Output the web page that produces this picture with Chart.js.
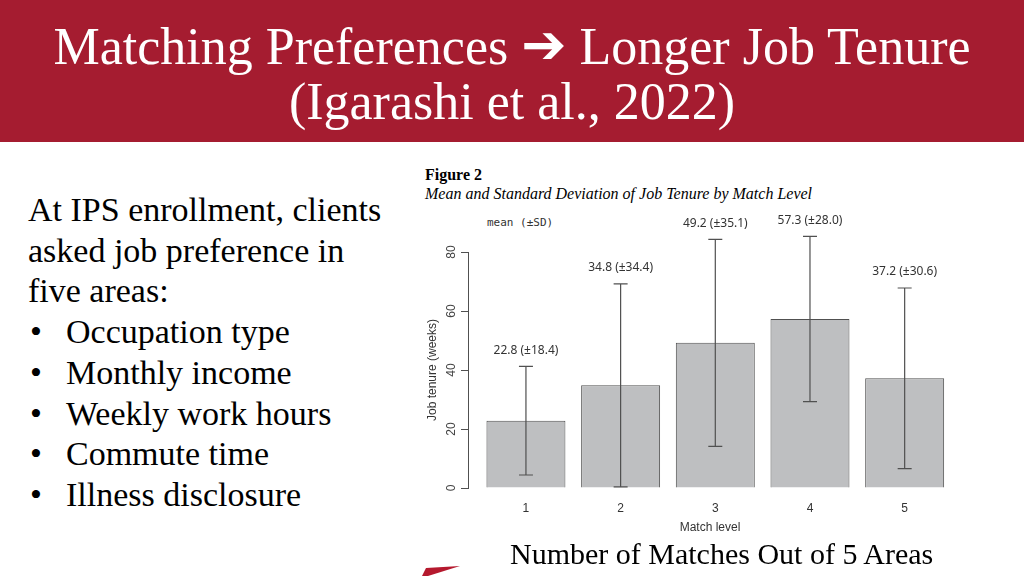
<!DOCTYPE html>
<html>
<head>
<meta charset="utf-8">
<script src="https://cdn.jsdelivr.net/npm/chart.js@4"></script>
<style>
  html, body { margin: 0; padding: 0; background: #fff; }
  body { width: 1024px; height: 576px; position: relative; overflow: hidden; font-family: "Liberation Serif", "Times New Roman", serif; }
  #banner { position: absolute; left: 0; top: 0; width: 1024px; height: 142px; background: #a51c30; color: #fff; text-align: center; }
  #banner .l { position: absolute; left: 0; width: 1024px; font-size: 52px; line-height: 56px; white-space: nowrap; }
  #banner .arrow { font-family: "DejaVu Sans", sans-serif; font-size: 54px; line-height: 40px; vertical-align: 1px; }
  #left { position: absolute; left: 28px; top: 190px; font-size: 34px; line-height: 40.7px; color: #000; }
  #left ul { margin: 0; padding: 0; list-style: none; }
  #left li { position: relative; padding-left: 38px; }
  #left li::before { content: "\2022"; position: absolute; left: 2px; }
  #figLabel { position: absolute; left: 425px; top: 166px; font-size: 16px; font-weight: bold; color: #000; }
  #figTitle { position: absolute; left: 425px; top: 185px; font-size: 16px; font-style: italic; color: #000; }
  #legendTxt { position: absolute; left: 487px; top: 216px; font-family: "DejaVu Sans Mono", monospace; font-size: 11px; color: #333; }
  #chartBox { position: absolute; left: 410px; top: 205px; width: 560px; height: 335px; }
  #caption { position: absolute; left: 510px; top: 537px; font-size: 30px; color: #000; white-space: nowrap; }
  #swoosh { position: absolute; left: 418px; top: 566px; }
</style>
</head>
<body>
<div id="banner">
  <div class="l" style="top:19px">Matching Preferences <span class="arrow">&#x2794;</span> Longer Job Tenure</div>
  <div class="l" style="top:74px">(Igarashi et al., 2022)</div>
</div>

<div id="left">
  At IPS enrollment, clients<br>
  asked job preference in<br>
  five areas:
  <ul>
    <li>Occupation type</li>
    <li>Monthly income</li>
    <li>Weekly work hours</li>
    <li>Commute time</li>
    <li>Illness disclosure</li>
  </ul>
</div>

<div id="figLabel">Figure 2</div>
<div id="figTitle">Mean and Standard Deviation of Job Tenure by Match Level</div>
<div id="legendTxt">mean (±SD)</div>

<div id="chartBox"><canvas id="grafico" width="560" height="335"></canvas></div>

<div id="caption">Number of Matches Out of 5 Areas</div>
<svg id="swoosh" width="44" height="10"><polygon points="4,10 8,2 42,0 10,10" fill="#b5192e"/></svg>

<script>
"use strict";

// datos
const niveles = [1, 2, 3, 4, 5];
const medias = [22.8, 34.8, 49.2, 57.3, 37.2];
const desvios = [18.4, 34.4, 35.1, 28.0, 30.6];
const ticksY = [0, 20, 40, 60, 80];

const GRIS = "#505050";

// barras de error y etiquetas "media (±SD)"
const errorBars = {
    id: "errorBars",
    afterDatasetsDraw(chart) {
        const ctx = chart.ctx;
        const y = chart.scales.y;
        const meta = chart.getDatasetMeta(0);
        ctx.save();
        ctx.strokeStyle = GRIS;
        ctx.lineWidth = 1.2;
        meta.data.forEach((bar, i) => {
            const yTop = y.getPixelForValue(medias[i] + desvios[i]);
            const yBot = y.getPixelForValue(Math.max(0, medias[i] - desvios[i]));
            const x = bar.x;
            ctx.beginPath();
            ctx.moveTo(x, yTop); ctx.lineTo(x, yBot);
            ctx.moveTo(x - 7, yTop); ctx.lineTo(x + 7, yTop);
            ctx.moveTo(x - 7, yBot); ctx.lineTo(x + 7, yBot);
            ctx.stroke();
            ctx.fillStyle = "#333";
            ctx.font = "12px 'Noto Sans', sans-serif";
            ctx.textAlign = "center";
            ctx.textBaseline = "middle";
            ctx.fillText(medias[i].toFixed(1) + " (±" + desvios[i].toFixed(1) + ")", x, yTop - 16);
        });
        // etiquetas del eje y, giradas como en R
        ctx.fillStyle = "#444";
        ctx.font = "12px 'Liberation Sans', sans-serif";
        y.ticks.forEach(t => {
            const py = y.getPixelForValue(t.value);
            ctx.save();
            ctx.translate(y.right - 16, py);
            ctx.rotate(-Math.PI / 2);
            ctx.textAlign = "center";
            ctx.textBaseline = "middle";
            ctx.fillText(String(t.value), 0, 0);
            ctx.restore();
        });
        ctx.restore();
    }
};

new Chart(document.getElementById("grafico"), {
    type: "bar",
    data: {
        datasets: [{
            data: niveles.map((n, i) => ({ x: n, y: medias[i] })),
            backgroundColor: "#bebfc1",
            borderColor: GRIS,
            borderWidth: 1,
            barPercentage: 0.834,
            categoryPercentage: 1
        }]
    },
    options: {
        responsive: false,
        animation: false,
        layout: { padding: { top: 47, right: 18, bottom: 0, left: 0 } },
        plugins: { legend: { display: false }, tooltip: { enabled: false } },
        scales: {
            x: {
                type: "linear",
                offset: false,
                min: 0.388,
                max: 5.5,
                afterFit(s) { s.height = 52; },
                afterBuildTicks(s) { s.ticks = niveles.map(v => ({ value: v })); },
                grid: { display: false, drawTicks: false },
                border: { display: false },
                ticks: { color: "#333", padding: 13, font: { family: "'Liberation Sans', sans-serif", size: 12 } },
                title: { display: true, text: "Match level", color: "#333", padding: { bottom: 5 }, font: { family: "'Liberation Sans', sans-serif", size: 12 } }
            },
            y: {
                min: 0,
                max: 80,
                afterFit(s) { s.width = 58; },
                afterBuildTicks(s) { s.ticks = ticksY.map(v => ({ value: v })); },
                grid: { drawOnChartArea: false, drawTicks: true, tickLength: 7, color: GRIS },
                border: { display: true, color: GRIS, width: 1 },
                ticks: { display: false },
                title: { display: true, text: "Job tenure (weeks)", color: "#333", padding: { top: 15 }, font: { family: "'Liberation Sans', sans-serif", size: 12 } }
            }
        }
    },
    plugins: [errorBars]
});
</script>
</body>
</html>
